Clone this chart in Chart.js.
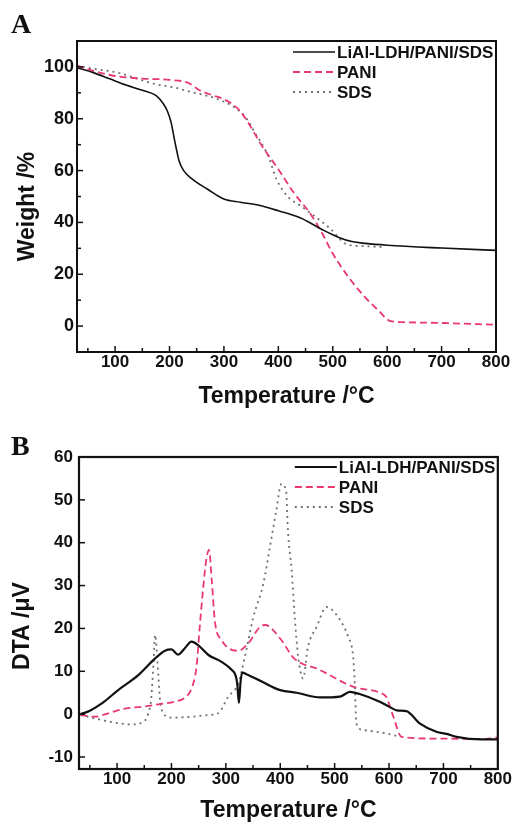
<!DOCTYPE html>
<html>
<head>
<meta charset="utf-8">
<script src="https://cdn.jsdelivr.net/npm/chart.js@4.4.1/dist/chart.umd.min.js"></script>
<style>
  html, body { margin: 0; padding: 0; background: #fff; }
  canvas { position: absolute; left: 0; }
  #tgaChart { top: 0; }
  #dtaChart { top: 412px; }
</style>
</head>
<body>
<canvas id="tgaChart" width="512" height="412"></canvas>
<canvas id="dtaChart" width="512" height="412"></canvas>
<script>
// series names and tick labels
const seriesNames = ['LiAl-LDH/PANI/SDS', 'PANI', 'SDS'];
const tempTicks = [100, 200, 300, 400, 500, 600, 700, 800];
const weightTicks = [0, 20, 40, 60, 80, 100];
const dtaTicks = [-10, 0, 10, 20, 30, 40, 50, 60];

// (A) TGA, weight % vs temperature
const tgaCompT = [30, 60, 90, 120, 150, 175, 188, 196, 203, 210, 218, 226, 240, 270, 300, 330, 360, 400, 440, 480, 510, 535, 560, 600, 700, 800];
const tgaCompW = [99.7, 97.8, 95.4, 93, 91, 89, 86, 83, 78.5, 71, 63.5, 60, 57, 52.8, 49, 47.8, 46.8, 44.5, 41.8, 37.3, 34.3, 32.6, 31.9, 31.2, 30.1, 29.2];
const tgaPaniT = [30, 60, 100, 150, 200, 235, 255, 280, 300, 325, 340, 370, 400, 430, 460, 480, 500, 530, 560, 585, 605, 630, 700, 800];
const tgaPaniW = [100.5, 98.5, 96.5, 95.5, 95, 93.8, 91, 89, 87.5, 84, 80, 69.5, 60.5, 51, 43, 36, 28, 18.6, 11, 5.8, 2, 1.5, 1.2, 0.5];
const tgaSdsT = [30, 60, 105, 140, 173, 210, 240, 283, 320, 340, 357, 381, 397, 418, 440, 463, 497, 525, 560, 590];
const tgaSdsW = [100.5, 99.3, 97.8, 95.5, 93.4, 92, 90.3, 88, 84.3, 80.5, 74.6, 65.8, 56.5, 49.8, 46.5, 43, 37.3, 31.6, 30.8, 30.5];

// (B) DTA, µV vs temperature
const dtaCompT = [33, 50, 72, 102, 139, 170, 188, 200, 212, 222, 237, 249, 268, 292, 311, 318, 321, 324, 327, 330, 340, 366, 400, 430, 473, 510, 528, 546, 583, 601, 614, 632, 657, 687, 706, 724, 770, 800];
const dtaCompV = [0, 0.8, 2.5, 5.6, 9.1, 13, 14.8, 15.1, 13.9, 15, 16.9, 16.1, 13.8, 12.2, 10.3, 9, 7, 2.6, 7.5, 9.7, 9.2, 7.6, 5.6, 5, 3.9, 4.1, 5.2, 4.7, 2.9, 1.7, 0.9, 0.7, -2.2, -4.1, -4.6, -5.3, -5.9, -5.9];
const dtaPaniT = [33, 59, 84, 115, 145, 176, 206, 225, 237, 246, 252, 258, 264, 269, 274, 280, 292, 311, 323, 341, 363, 372, 402, 424, 473, 534, 583, 595, 608, 623, 687, 779, 800];
const dtaPaniV = [-0.2, -0.6, 0.2, 1.3, 1.7, 2.3, 2.9, 3.9, 6, 11, 20.4, 29, 36, 38.3, 31.3, 21.5, 17.3, 15, 14.8, 16.5, 20.4, 20.8, 17.3, 13.2, 10.3, 6.4, 5, 4, -0.6, -5.3, -5.7, -5.8, -5.4];
const dtaSdsT = [33, 59, 96, 127, 145, 157, 163, 167, 170, 174, 179, 185, 200, 237, 268, 286, 304, 323, 335, 350, 369, 381, 393, 402, 411, 414, 421, 427, 433, 442, 451, 467, 485, 506, 525, 534, 537, 540, 552, 595, 620];
const dtaSdsV = [-0.2, -1, -2, -2.4, -2, 0, 4, 12, 18.5, 12.6, 3.3, 0.2, -0.8, -0.6, -0.2, 0.2, 4, 7.2, 13.4, 22.4, 30.5, 39, 47.7, 53.7, 51.9, 43, 33.6, 22, 13.4, 8.3, 15.7, 20.4, 25, 22.7, 18, 13.4, 7.2, -2.2, -3.7, -4.5, -5.3];

const FONT = "'Liberation Sans', Arial, sans-serif";
const INK = '#111';

function lineSet(label, xs, ys, color, width, dash) {
  return {
    label: label,
    data: xs.map((x, i) => ({ x: x, y: ys[i] })),
    borderColor: color,
    borderWidth: width,
    borderDash: dash,
    pointRadius: 0,
    fill: false,
    cubicInterpolationMode: 'monotone'
  };
}

// frame, inward ticks, legend, y title and panel letter
const decor = {
  id: 'decor',
  afterDraw(chart, args, o) {
    const { ctx, chartArea: a, scales: { x, y } } = chart;
    const seg = (x1, y1, x2, y2) => { ctx.beginPath(); ctx.moveTo(x1, y1); ctx.lineTo(x2, y2); ctx.stroke(); };
    ctx.save();
    ctx.strokeStyle = INK;
    ctx.lineWidth = 1.5;
    for (let t = 50; t < x.max; t += 50) {
      if (t <= x.min) continue;
      const px = x.getPixelForValue(t);
      seg(px, a.bottom, px, a.bottom - (t % 100 === 0 ? 6 : 4));
    }
    for (let v = Math.ceil(y.min / o.yStep) * o.yStep; v < y.max; v += o.yStep) {
      const py = y.getPixelForValue(v);
      seg(a.left, py, a.left + (v % o.yMajor === 0 ? 6 : 4), py);
    }
    ctx.lineWidth = o.frame;
    ctx.strokeRect(a.left, a.top, a.right - a.left, a.bottom - a.top);

    // legend
    ctx.font = 'bold 17px ' + FONT;
    ctx.textAlign = 'left';
    ctx.textBaseline = 'middle';
    chart.data.datasets.forEach((ds, i) => {
      const ly = a.top + o.legTop + i * 20;
      ctx.strokeStyle = ds.borderColor;
      ctx.lineWidth = ds.borderWidth;
      ctx.setLineDash(ds.borderDash);
      seg(a.right - 203, ly, a.right - 161, ly);
      ctx.setLineDash([]);
      ctx.fillStyle = INK;
      ctx.fillText(ds.label, a.right - 159, ly + 1);
    });

    // y axis title
    ctx.save();
    ctx.translate(o.yTitleX, (a.top + a.bottom) / 2 + o.yTitleShift);
    ctx.rotate(-Math.PI / 2);
    ctx.font = 'bold 23px ' + FONT;
    ctx.textAlign = 'center';
    ctx.fillText(o.yTitle, 0, 0);
    ctx.restore();

    // panel letter
    ctx.font = "bold 28px 'Liberation Serif', 'Times New Roman', serif";
    ctx.textBaseline = 'alphabetic';
    ctx.fillText(o.letter, 11, o.letterY);
    ctx.restore();
  }
};

function makeChart(id, datasets, cfg) {
  return new Chart(document.getElementById(id), {
    type: 'line',
    data: { datasets: datasets },
    plugins: [decor],
    options: {
      responsive: false,
      animation: false,
      devicePixelRatio: 1,
      layout: { padding: { top: cfg.top, right: cfg.right, left: 0, bottom: 0 } },
      plugins: {
        legend: { display: false },
        tooltip: { enabled: false },
        decor: cfg.decor
      },
      scales: {
        x: {
          type: 'linear',
          min: 30,
          max: 800,
          grid: { display: false, drawTicks: false },
          border: { display: false },
          afterBuildTicks: s => { s.ticks = tempTicks.map(v => ({ value: v })); },
          ticks: {
            autoSkip: false,
            maxRotation: 0,
            padding: 0,
            color: INK,
            font: { family: FONT, size: 17, weight: 'bold' }
          },
          title: {
            display: true,
            text: 'Temperature /°C',
            color: INK,
            font: { family: FONT, size: 23, weight: 'bold' },
            padding: { top: 0, bottom: cfg.titlePad }
          },
          afterFit: s => { s.height = cfg.xHeight; }
        },
        y: {
          type: 'linear',
          min: cfg.yMin,
          max: cfg.yMax,
          grid: { display: false, drawTicks: false },
          border: { display: false },
          afterBuildTicks: s => { s.ticks = cfg.yLabels.map(v => ({ value: v })); },
          ticks: {
            autoSkip: false,
            padding: cfg.yPad,
            color: INK,
            font: { family: FONT, size: cfg.yFont, weight: 'bold' }
          },
          afterFit: s => { s.width = cfg.yWidth; }
        }
      }
    }
  });
}

makeChart('tgaChart', [
  lineSet(seriesNames[0], tgaCompT, tgaCompW, INK, 1.6, []),
  lineSet(seriesNames[1], tgaPaniT, tgaPaniW, '#e8386c', 1.8, [7, 4]),
  lineSet(seriesNames[2], tgaSdsT, tgaSdsW, '#707070', 1.8, [2, 4])
], {
  top: 41, right: 16, xHeight: 60, yWidth: 77, titlePad: 2,
  yMin: -10, yMax: 110, yLabels: weightTicks, yPad: 3, yFont: 18,
  decor: { yStep: 10, yMajor: 20, frame: 2, legTop: 11, yTitle: 'Weight /%', yTitleX: 28, yTitleShift: 10, letter: 'A', letterY: 33 }
});

makeChart('dtaChart', [
  lineSet(seriesNames[0], dtaCompT, dtaCompV, INK, 2.2, []),
  lineSet(seriesNames[1], dtaPaniT, dtaPaniV, '#e8386c', 1.8, [7, 4]),
  lineSet(seriesNames[2], dtaSdsT, dtaSdsV, '#707070', 1.8, [2, 4])
], {
  top: 45, right: 14, xHeight: 55, yWidth: 79, titlePad: 0,
  yMin: -12.8, yMax: 60, yLabels: dtaTicks, yPad: 6, yFont: 17,
  decor: { yStep: 10, yMajor: 10, frame: 2.2, legTop: 10, yTitle: 'DTA /μV', yTitleX: 23, yTitleShift: 13, letter: 'B', letterY: 43 }
});
</script>
</body>
</html>
